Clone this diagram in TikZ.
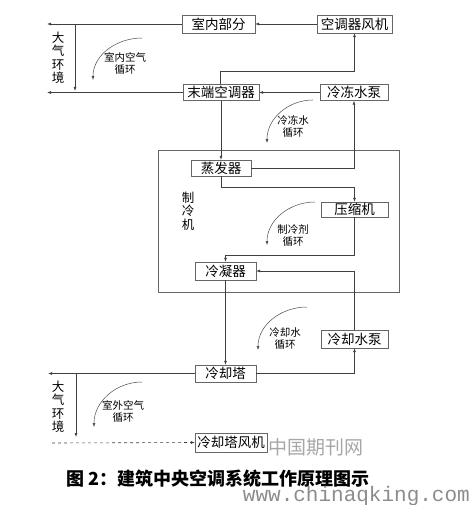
\documentclass[tikz,border=0pt]{standalone}
\usepackage{fontspec}
\setmainfont{Noto Sans CJK SC}
\newfontfamily\urlfont{Liberation Mono}
\usetikzlibrary{arrows.meta}
\tikzset{
  unitbox/.style={rectangle, draw=black!60, inner sep=0pt,
                  minimum width=#1, minimum height=17pt,
                  font=\fontsize{13.5}{14}\selectfont},
  unitbox/.default=70pt,
  cycnote/.style={align=center, inner sep=0pt, font=\fontsize{10.5}{12}\selectfont},
  vtext/.style={align=center, inner sep=0pt, font=\fontsize{12.5}{13.5}\selectfont},
  arr/.style={-{Latex[length=4pt,width=3pt]}, draw=black!75, line width=0.6pt},
  cycarr/.style={-{Latex[length=4pt,width=3pt]}, draw=black!70, line width=0.5pt},
}
\begin{document}
\begin{tikzpicture}[x=1pt, y=-1pt]
  \useasboundingbox (0,0) rectangle (470,505);
  % units
  \node[unitbox=73pt, minimum height=18pt] (indoor)   at (218.5,24)  {室内部分};
  \node[unitbox=75pt, minimum height=18pt] (fan)      at (354.5,24)  {空调器风机};
  \node[unitbox=76pt, minimum height=16pt] (terminal) at (221,92.5)  {末端空调器};
  \node[unitbox=68pt, minimum height=16pt] (chwpump)  at (354,92.5)  {冷冻水泵};
  \node[draw=black!60, minimum width=241pt, minimum height=142pt, inner sep=0pt] (chiller) at (278.5,221) {};
  \node[unitbox=60pt, minimum height=16pt] (evap)     at (221,168)   {蒸发器};
  \node[unitbox=67pt, minimum height=15pt] (comp)     at (354.5,209.5) {压缩机};
  \node[unitbox=61pt, minimum height=18pt] (cond)     at (225.5,271) {冷凝器};
  \node[unitbox=67pt, minimum height=18pt] (cwpump)   at (354.5,339) {冷却水泵};
  \node[unitbox=61pt, minimum height=17pt] (tower)    at (225.5,373.5) {冷却塔};
  \node[unitbox=72pt, minimum height=19pt] (towerfan) at (231,442.5) {冷却塔风机};
  % free ends
  \coordinate (atmA) at (47,24);
  \coordinate (atmB) at (47,92.5);
  \coordinate (roomTop) at (75,24);
  \coordinate (roomBot) at (75,91);
  \coordinate (atmC) at (48,373.5);
  \coordinate (outTop) at (76,373.5);
  \coordinate (outBot) at (76,437);
  \coordinate (atmD) at (52,443);
  % indoor air loop
  \draw[arr] (fan) -- (indoor);
  \draw[arr] (indoor.west) -- (atmA);
  \draw[arr] (terminal.west) -- (atmB);
  \draw[arr] (roomTop) -- (roomBot);
  \draw[arr] ([xshift=-1pt]terminal.north) -- ++(0,-13) -| (fan.south);
  % chilled water loop
  \draw[arr] (chwpump) -- (terminal);
  \draw[arr] (terminal.south) -- (evap.north);
  \draw[arr] (evap.east) -| (chwpump.south);
  % refrigerant loop
  \draw[arr] (evap.south) -- ++(0,11) -| (comp.north);
  \draw[arr] (comp.south) -- ++(0,38) -| (cond.north);
  % cooling water loop
  \draw[arr] (cwpump.north) |- (cond.east);
  \draw[arr] (cond) -- (tower);
  \draw[arr] (tower.east) -| (cwpump.south);
  % outdoor air loop
  \draw[arr] (tower.west) -- (atmC);
  \draw[arr] (outTop) -- (outBot);
  \draw[arr, dashed] (atmD) -- (towerfan.west);
  % cycle marks
  \draw[cycarr] (142,38) to[out=180,in=90] (93,80);
  \draw[cycarr] (313,100) to[out=180,in=90] (267,143);
  \draw[cycarr] (315,202) to[out=180,in=90] (267,245);
  \draw[cycarr] (307,307) to[out=180,in=90] (258,350);
  \draw[cycarr] (142,382) to[out=180,in=90] (94,427);
  \node[cycnote] (indoorcyc) at (125,64)  {室内空气\\循环};
  \node[cycnote] (chwcyc)    at (293,127) {冷冻水\\循环};
  \node[cycnote] (refcyc)    at (293,235.5) {制冷剂\\循环};
  \node[cycnote] (cwcyc)     at (285,339) {冷却水\\循环};
  \node[cycnote] (outcyc)    at (123,411) {室外空气\\循环};
  % vertical labels
  \node[vtext] (atmtop)     at (58,58)  {大\\气\\环\\境};
  \node[vtext] (chillerlbl) at (188,211) {制\\冷\\机};
  \node[vtext] (atmbot)     at (58,407) {大\\气\\环\\境};
  % caption and marks
  \node[text=black!35, font=\fontsize{19}{19}\selectfont, inner sep=0pt] (wmark) at (316,447) {中国期刊网};
  \node[font=\bfseries\fontsize{18}{18}\selectfont, inner sep=0pt] (caption) at (218,479) {图 2：建筑中央空调系统工作原理图示};
  \node[text=black!45, font=\urlfont\fontsize{21}{21}\selectfont, inner sep=0pt, anchor=east] (wmurl) at (470,496) {www.chinaqking.com};
\end{tikzpicture}
\end{document}
